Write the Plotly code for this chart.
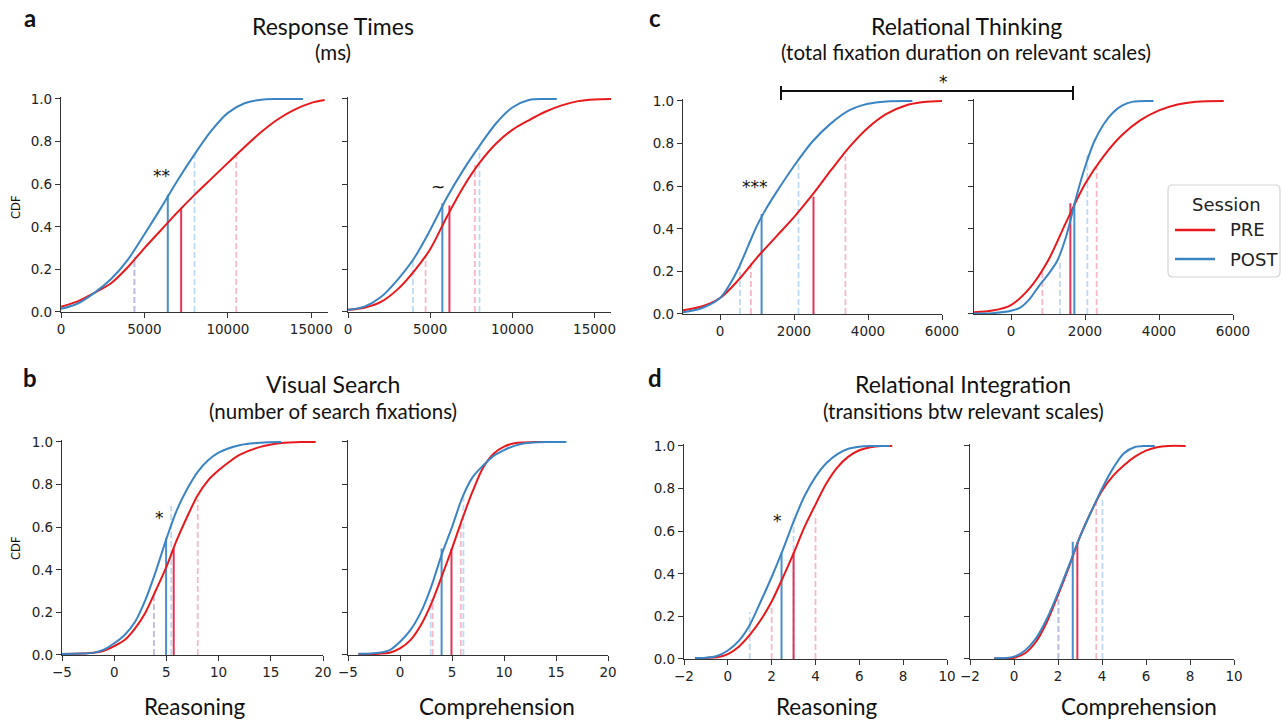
import plotly.graph_objects as go

W, H = 1287, 720

# ---------------- DATA ----------------
# a: Response Times (ms) - Reasoning
a_rea_pre_x = [0, 1000, 2000, 3000, 4000, 5000, 6000, 7000, 8000, 9000, 10000, 11000, 12000, 13000, 14000, 15000, 15800]
a_rea_pre_y = [0.025, 0.05, 0.09, 0.135, 0.21, 0.30, 0.385, 0.47, 0.55, 0.625, 0.70, 0.775, 0.845, 0.905, 0.95, 0.982, 0.995]
a_rea_post_x = [0, 1000, 2000, 3000, 4000, 5000, 6000, 7000, 8000, 9000, 10000, 11000, 12000, 13000, 14500]
a_rea_post_y = [0.015, 0.04, 0.09, 0.155, 0.245, 0.365, 0.49, 0.62, 0.74, 0.85, 0.935, 0.98, 0.997, 1.0, 1.0]
a_rea_pre_q = [4400, 7200, 10500]
a_rea_pre_h = [0.25, 0.49, 0.74]
a_rea_post_q = [4400, 6400, 8000]
a_rea_post_h = [0.26, 0.55, 0.74]

# a: Response Times (ms) - Comprehension
a_com_pre_x = [0, 1000, 2000, 3000, 4000, 5000, 6000, 7000, 8000, 9000, 10000, 11000, 12000, 13000, 14000, 15000, 16000]
a_com_pre_y = [0.01, 0.02, 0.047, 0.105, 0.19, 0.295, 0.445, 0.585, 0.70, 0.79, 0.855, 0.90, 0.94, 0.97, 0.99, 0.998, 1.0]
a_com_post_x = [0, 1000, 2000, 3000, 4000, 5000, 6000, 7000, 8000, 9000, 10000, 11000, 12000, 12700]
a_com_post_y = [0.01, 0.025, 0.07, 0.15, 0.25, 0.385, 0.535, 0.665, 0.78, 0.885, 0.96, 0.995, 1.0, 1.0]
a_com_pre_q = [4720, 6170, 7720]
a_com_pre_h = [0.26, 0.50, 0.69]
a_com_post_q = [3950, 5740, 8000]
a_com_post_h = [0.25, 0.51, 0.77]

# b: Visual Search - Reasoning
b_rea_pre_x = [-5, -3, -2, -1, 0, 1, 2, 3, 4, 5, 6, 7, 8, 9, 10, 11, 12, 14, 16, 18, 19.3]
b_rea_pre_y = [0.005, 0.007, 0.01, 0.02, 0.042, 0.07, 0.125, 0.2, 0.305, 0.414, 0.54, 0.65, 0.75, 0.82, 0.867, 0.906, 0.94, 0.977, 0.995, 1.0, 1.0]
b_rea_post_x = [-5, -3, -2, -1, 0, 1, 2, 3, 4, 5, 6, 7, 8, 9, 10, 12, 14, 16]
b_rea_post_y = [0.005, 0.007, 0.01, 0.025, 0.055, 0.094, 0.156, 0.26, 0.395, 0.545, 0.68, 0.78, 0.86, 0.914, 0.95, 0.985, 0.997, 1.0]
b_rea_pre_q = [3.8, 5.7, 8.0]
b_rea_pre_h = [0.28, 0.50, 0.73]
b_rea_post_q = [3.8, 4.97, 5.46]
b_rea_post_h = [0.29, 0.55, 0.70]

# b: Visual Search - Comprehension
b_com_pre_x = [-4, -2, -1, 0, 1, 2, 3, 4, 5, 6, 7, 8, 9, 10, 11, 12, 13, 14]
b_com_pre_y = [0.004, 0.006, 0.011, 0.031, 0.07, 0.14, 0.24, 0.367, 0.5, 0.64, 0.77, 0.88, 0.945, 0.978, 0.994, 0.998, 1.0, 1.0]
b_com_post_x = [-4, -2, -1, 0, 1, 2, 3, 4, 5, 6, 7, 8, 9, 10, 11, 12, 14, 16]
b_com_post_y = [0.006, 0.011, 0.023, 0.0625, 0.117, 0.2, 0.32, 0.47, 0.6, 0.74, 0.836, 0.89, 0.935, 0.962, 0.982, 0.994, 1.0, 1.0]
b_com_pre_q = [3.15, 4.95, 5.85]
b_com_pre_h = [0.26, 0.50, 0.62]
b_com_post_q = [2.95, 4.0, 6.1]
b_com_post_h = [0.26, 0.50, 0.76]

# c: Relational Thinking - Reasoning
c_rea_pre_x = [-1000, -500, 0, 500, 1000, 1500, 2000, 2500, 3000, 3500, 4000, 4500, 5000, 5500, 6000]
c_rea_pre_y = [0.018, 0.035, 0.075, 0.16, 0.265, 0.36, 0.455, 0.56, 0.675, 0.785, 0.875, 0.94, 0.978, 0.995, 1.0]
c_rea_post_x = [-1000, -500, 0, 250, 500, 750, 1000, 1250, 1500, 2000, 2500, 3000, 3500, 4000, 4500, 5200]
c_rea_post_y = [0.008, 0.027, 0.075, 0.135, 0.215, 0.315, 0.415, 0.495, 0.565, 0.695, 0.81, 0.895, 0.957, 0.987, 0.998, 1.0]
c_rea_pre_q = [836, 2527, 3390]
c_rea_pre_h = [0.25, 0.55, 0.74]
c_rea_post_q = [540, 1124, 2122]
c_rea_post_h = [0.24, 0.47, 0.73]

# c: Relational Thinking - Comprehension
c_com_pre_x = [-1000, -500, 0, 500, 1000, 1500, 2000, 2500, 3000, 3500, 4000, 4500, 5000, 5750]
c_com_pre_y = [0.008, 0.016, 0.042, 0.12, 0.25, 0.435, 0.61, 0.74, 0.84, 0.91, 0.956, 0.984, 0.997, 1.0]
c_com_post_x = [-1000, -500, 0, 250, 500, 750, 1000, 1250, 1500, 1750, 2000, 2250, 2500, 2750, 3000, 3300, 3850]
c_com_post_y = [0.002, 0.004, 0.015, 0.03, 0.07, 0.13, 0.185, 0.25, 0.37, 0.54, 0.69, 0.81, 0.89, 0.945, 0.978, 0.997, 1.0]
c_com_pre_q = [847, 1604, 2315]
c_com_pre_h = [0.20, 0.52, 0.69]
c_com_post_q = [1324, 1712, 2063]
c_com_post_h = [0.25, 0.52, 0.75]

# d: Relational Integration - Reasoning
d_rea_pre_x = [-1.5, -1, -0.5, 0, 0.5, 1, 1.5, 2, 2.5, 3, 3.5, 4, 4.5, 5, 5.5, 6, 6.5, 7, 7.5]
d_rea_pre_y = [0.004, 0.005, 0.008, 0.023, 0.058, 0.113, 0.183, 0.27, 0.38, 0.496, 0.62, 0.725, 0.825, 0.9, 0.95, 0.98, 0.994, 1.0, 1.0]
d_rea_post_x = [-1.5, -1, -0.5, 0, 0.5, 1, 1.5, 2, 2.5, 3, 3.5, 4, 4.5, 5, 5.5, 6, 6.5, 7.4]
d_rea_post_y = [0.005, 0.006, 0.014, 0.04, 0.085, 0.16, 0.27, 0.385, 0.51, 0.645, 0.765, 0.855, 0.92, 0.962, 0.987, 0.997, 1.0, 1.0]
d_rea_pre_q = [2.0, 3.0, 4.0]
d_rea_pre_h = [0.245, 0.50, 0.68]
d_rea_post_q = [1.0, 2.45, 3.0]
d_rea_post_h = [0.22, 0.50, 0.68]

# d: Relational Integration - Comprehension
d_com_pre_x = [-0.9, 0, 0.5, 1, 1.5, 2, 2.5, 3, 3.5, 4, 4.5, 5, 5.5, 6, 6.5, 7, 7.8]
d_com_pre_y = [0.002, 0.006, 0.027, 0.081, 0.175, 0.30, 0.433, 0.574, 0.69, 0.79, 0.86, 0.91, 0.95, 0.978, 0.994, 1.0, 1.0]
d_com_post_x = [-0.9, 0, 0.5, 1, 1.5, 2, 2.5, 3, 3.5, 4, 4.5, 5, 5.5, 6, 6.4]
d_com_post_y = [0.003, 0.011, 0.04, 0.097, 0.19, 0.31, 0.44, 0.574, 0.69, 0.80, 0.895, 0.966, 0.995, 1.0, 1.0]
d_com_pre_q = [2.02, 2.88, 3.74]
d_com_pre_h = [0.28, 0.55, 0.75]
d_com_post_q = [2.02, 2.67, 4.02]
d_com_post_h = [0.30, 0.55, 0.76]

# axis ranges and ticks
rt_range = [0, 16000]
rt_ticks = [0, 5000, 10000, 15000]
rt_labels = ["0", "5000", "10000", "15000"]
vs_range = [-5, 20]
vs_ticks = [-5, 0, 5, 10, 15, 20]
vs_labels = ["\u22125", "0", "5", "10", "15", "20"]
th_range = [-1000, 6000]
th_ticks = [0, 2000, 4000, 6000]
th_labels = ["0", "2000", "4000", "6000"]
ig_range = [-2, 10]
ig_ticks = [-2, 0, 2, 4, 6, 8, 10]
ig_labels = ["\u22122", "0", "2", "4", "6", "8", "10"]
cdf_range = [0, 1.008]
cdf_ticks = [0, 0.2, 0.4, 0.6, 0.8, 1.0]
cdf_labels = ["0.0", "0.2", "0.4", "0.6", "0.8", "1.0"]

sessions = ["PRE", "POST"]
legend_title = "Session"
panel_titles = ["Response Times", "Visual Search", "Relational Thinking", "Relational Integration"]
panel_subtitles = ["(ms)", "(number of search fixations)",
                   "(total fixation duration on relevant scales)", "(transitions btw relevant scales)"]
column_labels = ["Reasoning", "Comprehension"]

# ---------------- STYLE ----------------
RED = "#e8191c"
BLUE = "#3a84c4"
RED_MED = "#e3345a"
BLUE_MED = "#4a8ecb"
RED_Q = "rgba(242,140,165,0.62)"
BLUE_Q = "rgba(150,195,235,0.62)"
AX = "#333333"
TICKFONT = dict(family="DejaVu Sans", size=13.5, color="#222222")
TEXTFONT = "Lato"


def px_x(p):
    return p / W


def px_y(p):
    return 1 - p / H


# subplot boxes in pixels: (left, right, top of value 1.0, bottom)
panels = [
    ("a_rea", rt_range, rt_ticks, rt_labels, (61, 328, 99, 312), True,
     (a_rea_pre_x, a_rea_pre_y, a_rea_post_x, a_rea_post_y, a_rea_pre_q, a_rea_pre_h, a_rea_post_q, a_rea_post_h)),
    ("a_com", rt_range, rt_ticks, rt_labels, (348, 611, 99, 312), False,
     (a_com_pre_x, a_com_pre_y, a_com_post_x, a_com_post_y, a_com_pre_q, a_com_pre_h, a_com_post_q, a_com_post_h)),
    ("b_rea", vs_range, vs_ticks, vs_labels, (62, 323, 442, 655), True,
     (b_rea_pre_x, b_rea_pre_y, b_rea_post_x, b_rea_post_y, b_rea_pre_q, b_rea_pre_h, b_rea_post_q, b_rea_post_h)),
    ("b_com", vs_range, vs_ticks, vs_labels, (348, 608, 442, 655), False,
     (b_com_pre_x, b_com_pre_y, b_com_post_x, b_com_post_y, b_com_pre_q, b_com_pre_h, b_com_post_q, b_com_post_h)),
    ("c_rea", th_range, th_ticks, th_labels, (683, 942, 101, 314), True,
     (c_rea_pre_x, c_rea_pre_y, c_rea_post_x, c_rea_post_y, c_rea_pre_q, c_rea_pre_h, c_rea_post_q, c_rea_post_h)),
    ("c_com", th_range, th_ticks, th_labels, (974, 1233, 101, 314), False,
     (c_com_pre_x, c_com_pre_y, c_com_post_x, c_com_post_y, c_com_pre_q, c_com_pre_h, c_com_post_q, c_com_post_h)),
    ("d_rea", ig_range, ig_ticks, ig_labels, (684, 947, 446, 659), True,
     (d_rea_pre_x, d_rea_pre_y, d_rea_post_x, d_rea_post_y, d_rea_pre_q, d_rea_pre_h, d_rea_post_q, d_rea_post_h)),
    ("d_com", ig_range, ig_ticks, ig_labels, (970, 1234, 446, 659), False,
     (d_com_pre_x, d_com_pre_y, d_com_post_x, d_com_post_y, d_com_pre_q, d_com_pre_h, d_com_post_q, d_com_post_h)),
]

fig = go.Figure()
layout_axes = {}

for i, (key, xr, xt, xl, box, showy, ser) in enumerate(panels):
    n = i + 1
    xa = "x" if n == 1 else f"x{n}"
    ya = "y" if n == 1 else f"y{n}"
    l, r, t, b = box
    # extend top slightly so lines at 1.0 are not clipped
    t_ext = t - (cdf_range[1] - 1.0) * (b - t)
    layout_axes["xaxis" if n == 1 else f"xaxis{n}"] = dict(
        domain=[px_x(l), px_x(r)], anchor=ya, range=xr, tickvals=xt, ticktext=xl,
        showgrid=False, zeroline=False, showline=True, linecolor=AX, linewidth=1.2,
        ticks="outside", ticklen=5, tickwidth=1.2, tickcolor=AX, tickfont=TICKFONT,
        automargin=False, fixedrange=True)
    layout_axes["yaxis" if n == 1 else f"yaxis{n}"] = dict(
        domain=[px_y(b), px_y(t_ext)], anchor=xa, range=cdf_range, tickvals=cdf_ticks, ticktext=cdf_labels,
        showticklabels=showy, showgrid=False, zeroline=False, showline=True, linecolor=AX, linewidth=1.2,
        ticks="outside", ticklen=5, tickwidth=1.2, tickcolor=AX, tickfont=TICKFONT,
        automargin=False, fixedrange=True)

    pre_x, pre_y, post_x, post_y, pre_q, pre_h, post_q, post_h = ser
    # quartile (dashed) lines
    for qs, hs, col in ((pre_q, pre_h, RED_Q), (post_q, post_h, BLUE_Q)):
        for j in (0, 2):
            fig.add_trace(go.Scatter(x=[qs[j], qs[j]], y=[0, hs[j]], mode="lines", xaxis=xa, yaxis=ya,
                                     line=dict(color=col, width=1.8, dash="6px,3px"),
                                     showlegend=False, hoverinfo="skip"))
    # median (solid) lines
    for qs, hs, col in ((pre_q, pre_h, RED_MED), (post_q, post_h, BLUE_MED)):
        fig.add_trace(go.Scatter(x=[qs[1], qs[1]], y=[0, hs[1]], mode="lines", xaxis=xa, yaxis=ya,
                                 line=dict(color=col, width=2), showlegend=False, hoverinfo="skip"))
    # CDF curves
    for sx, sy, col, name in ((pre_x, pre_y, RED, sessions[0]), (post_x, post_y, BLUE, sessions[1])):
        fig.add_trace(go.Scatter(x=sx, y=sy, mode="lines", xaxis=xa, yaxis=ya, name=name,
                                 line=dict(color=col, width=2, shape="spline", smoothing=0.9),
                                 showlegend=False))

annotations = []


def txt(text, x, y, size, family=TEXTFONT, bold=False, angle=0, color="#111111", xanchor="center"):
    annotations.append(dict(
        text=(f"<b>{text}</b>" if bold else text), x=px_x(x), y=px_y(y), xref="paper", yref="paper",
        showarrow=False, xanchor=xanchor, yanchor="middle", textangle=angle,
        font=dict(family=family, size=size, color=color)))


# panel letters
txt("a", 30, 17, 24, bold=True)
txt("b", 30, 377, 24, bold=True)
txt("c", 655, 17, 24, bold=True)
txt("d", 655, 377, 24, bold=True)

# titles
title_pos = [(333, 26, 52), (333, 384, 411), (966, 26, 52), (963, 384, 411)]
for (cx, ty, sy), tt, st in zip(title_pos, panel_titles, panel_subtitles):
    txt(tt, cx, ty, 23)
    txt(st, cx, sy, 20.5)

# column labels
for cx, lab in zip([194, 497, 826, 1139], column_labels * 2):
    txt(lab, cx, 706, 22.5)

# CDF axis labels
txt("CDF", 16, 207, 11.5, family="DejaVu Sans", angle=-90)
txt("CDF", 16, 548, 11.5, family="DejaVu Sans", angle=-90)

# significance marks (data coordinates)
stars = [("x", "y", 6040, 0.64, "**"), ("x2", "y2", 5500, 0.585, "~"),
         ("x5", "y5", 950, 0.595, "***"), ("x3", "y3", 4.3, 0.645, "*"), ("x7", "y7", 2.25, 0.65, "*")]
for xr_, yr_, sx, sy, s in stars:
    annotations.append(dict(text=s, x=sx, y=sy, xref=xr_, yref=yr_, showarrow=False,
                            xanchor="center", yanchor="middle",
                            font=dict(family="DejaVu Sans", size=17, color="#111111")))

# bracket across panel c
BR_L, BR_R, BR_Y, BR_T0, BR_T1 = 781, 1073, 91, 86, 100
shapes = [
    dict(type="line", xref="paper", yref="paper", x0=px_x(BR_L), x1=px_x(BR_R), y0=px_y(BR_Y), y1=px_y(BR_Y),
         line=dict(color="#111111", width=2)),
    dict(type="line", xref="paper", yref="paper", x0=px_x(BR_L), x1=px_x(BR_L), y0=px_y(BR_T0), y1=px_y(BR_T1),
         line=dict(color="#111111", width=2)),
    dict(type="line", xref="paper", yref="paper", x0=px_x(BR_R), x1=px_x(BR_R), y0=px_y(BR_T0), y1=px_y(BR_T1),
         line=dict(color="#111111", width=2)),
]
txt("*", 943, 82, 17, family="DejaVu Sans")

# legend box (drawn in pixel positions)
LG_L, LG_R, LG_T, LG_B, RAD = 1168, 1280, 185, 277, 5
path = (f"M {px_x(LG_L + RAD)},{px_y(LG_T)} L {px_x(LG_R - RAD)},{px_y(LG_T)} "
        f"Q {px_x(LG_R)},{px_y(LG_T)} {px_x(LG_R)},{px_y(LG_T + RAD)} "
        f"L {px_x(LG_R)},{px_y(LG_B - RAD)} Q {px_x(LG_R)},{px_y(LG_B)} {px_x(LG_R - RAD)},{px_y(LG_B)} "
        f"L {px_x(LG_L + RAD)},{px_y(LG_B)} Q {px_x(LG_L)},{px_y(LG_B)} {px_x(LG_L)},{px_y(LG_B - RAD)} "
        f"L {px_x(LG_L)},{px_y(LG_T + RAD)} Q {px_x(LG_L)},{px_y(LG_T)} {px_x(LG_L + RAD)},{px_y(LG_T)} Z")
shapes.append(dict(type="path", xref="paper", yref="paper", path=path,
                   line=dict(color="#d4d4d4", width=1.2), fillcolor="white", layer="above"))
txt(legend_title, 1226, 204, 18, family="DejaVu Sans", color="#222222")
for name, col, yy in ((sessions[0], RED, 230), (sessions[1], BLUE, 259)):
    shapes.append(dict(type="line", xref="paper", yref="paper", x0=px_x(1175), x1=px_x(1215),
                       y0=px_y(yy), y1=px_y(yy), line=dict(color=col, width=2.5), layer="above"))
    txt(name, 1228, yy, 18, family="DejaVu Sans", color="#222222", xanchor="left")

fig.update_layout(
    width=W, height=H, margin=dict(l=0, r=0, t=0, b=0),
    paper_bgcolor="white", plot_bgcolor="white", showlegend=False,
    annotations=annotations, shapes=shapes,
    **layout_axes,
)

fig.write_html("out.html")
